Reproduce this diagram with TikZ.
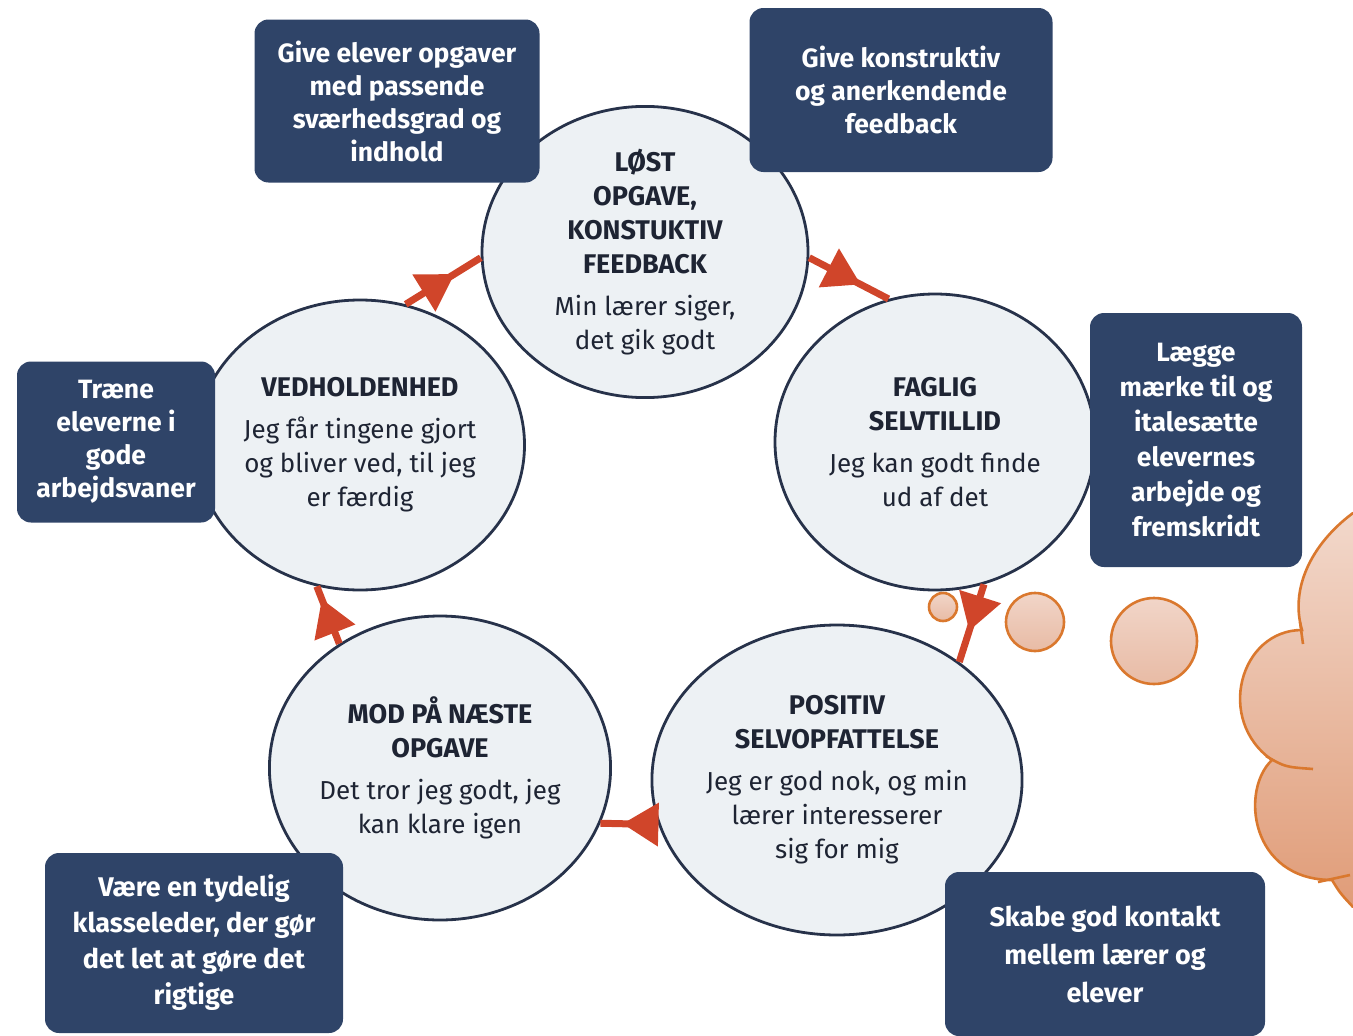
\documentclass[tikz,border=0pt]{standalone}
\usepackage{fontspec}
\setmainfont{Fira Sans}
\usetikzlibrary{shapes.geometric,decorations.markings,arrows.meta}
\definecolor{navy}{HTML}{2F4468}
\definecolor{ring}{HTML}{27324A}
\definecolor{cfill}{HTML}{EDF1F4}
\definecolor{ctext}{HTML}{1E2433}
\definecolor{arrowred}{HTML}{D0452A}
\definecolor{bubedge}{HTML}{DA782E}
\definecolor{bubtop}{HTML}{F1D5C8}
\definecolor{bubbot}{HTML}{E8BBA5}
\definecolor{cloudtop}{HTML}{F2D8CB}
\definecolor{cloudbot}{HTML}{E09C78}
\newcommand\ttl[1]{{\fontsize{27}{34}\selectfont\bfseries #1}}
\begin{document}
\begin{tikzpicture}[x=1pt,y=-1pt,
 circ/.style={ellipse, draw=ring, line width=2.8pt, fill=cfill, inner sep=0pt, align=center, text=ctext,
   font=\fontsize{26}{34}\selectfont},
 tbox/.style={rounded corners=14pt, fill=navy, text=white, align=center,
   font=\fontsize{26.5}{33}\selectfont\bfseries, inner sep=0pt},
 flow/.style={draw=arrowred, line width=7pt, postaction={decorate},
   decoration={markings, mark=at position #1 with {\arrow[arrowred]{Triangle[length=36pt,width=42pt]}}}},
 flow/.default=0.65,
 bubble/.style={circle, draw=bubedge, line width=2.6pt, top color=bubtop, bottom color=bubbot, inner sep=0pt},
]
\path[use as bounding box] (0,0) rectangle (1353,1036);

% cloud
\shade[top color=cloudtop, bottom color=cloudbot]
  (1353,513) .. controls (1310,545) and (1290,590) .. (1302,630)
  .. controls (1240,630) and (1215,720) .. (1272,760)
  .. controls (1240,790) and (1250,880) .. (1332,880)
  .. controls (1340,893) .. (1353,907) -- cycle;
\draw[bubedge, line width=2.6pt, line cap=round]
  (1353,513) .. controls (1310,545) and (1290,590) .. (1302,630)
  .. controls (1240,630) and (1215,720) .. (1272,760)
  .. controls (1240,790) and (1250,880) .. (1332,880)
  .. controls (1340,893) .. (1353,907);
\draw[bubedge, line width=2.6pt] (1300,622) -- (1303,644);
\draw[bubedge, line width=2.6pt] (1266,756) .. controls (1285,767) .. (1313,769);
\draw[bubedge, line width=2.6pt] (1318,882) -- (1350,875);

% circles
\node[circ, minimum width=326pt, minimum height=280pt] (c1) at (645,252)
  {\ttl{LØST}\\\ttl{OPGAVE,}\\\ttl{KONSTUKTIV}\\\ttl{FEEDBACK}\\[8pt]Min lærer siger,\\det gik godt};
\node[circ, minimum width=320pt, minimum height=296pt] (c2) at (935,442)
  {\ttl{FAGLIG}\\\ttl{SELVTILLID}\\[8pt]Jeg kan godt finde\\ud af det};
\node[circ, minimum width=350pt, minimum height=310pt] (c3) at (837,780)
  {\ttl{POSITIV}\\\ttl{SELVOPFATTELSE}\\[8pt]Jeg er god nok, og min\\lærer interesserer\\sig for mig};
\node[circ, minimum width=334pt, minimum height=304pt] (c4) at (440,768)
  {\ttl{MOD PÅ NÆSTE}\\\ttl{OPGAVE}\\[8pt]Det tror jeg godt, jeg\\kan klare igen};
\node[circ, minimum width=310pt, minimum height=290pt] (c5) at (360,445)
  {\ttl{VEDHOLDENHED}\\[8pt]Jeg får tingene gjort\\og bliver ved, til jeg\\er færdig};

% arrows
\draw[flow] (c1.-2) -- (c2.108);
\draw[flow=0.6] (c2.-71) -- (c3.44);
\draw[flow=0.62] (c3.-166) -- (c4.-19);
\draw[flow=0.78] (c4.129) -- (c5.-107);
\draw[flow] (c5.72) -- (c1.182);

% thought bubbles
\node[bubble, minimum size=28pt] (b1) at (943,607) {};
\node[bubble, minimum size=58pt] (b2) at (1035,622) {};
\node[bubble, minimum size=86pt] (b3) at (1154,641) {};

% boxes
\node[tbox, minimum width=285pt, minimum height=163pt] (t1) at (397,101)
  {Give elever opgaver\\med passende\\sværhedsgrad og\\indhold};
\node[tbox, minimum width=303pt, minimum height=164pt] (t2) at (901,90)
  {Give konstruktiv\\og anerkendende\\feedback};
\node[tbox, minimum width=212pt, minimum height=254pt, font=\fontsize{26.5}{35}\selectfont\bfseries] (t3) at (1196,440)
  {Lægge\\mærke til og\\italesætte\\elevernes\\arbejde og\\fremskridt};
\node[tbox, minimum width=198pt, minimum height=161pt] (t4) at (116,442)
  {Træne\\eleverne i\\gode\\arbejdsvaner};
\node[tbox, minimum width=298pt, minimum height=180pt, font=\fontsize{27}{36}\selectfont\bfseries] (t5) at (194,943)
  {Være en tydelig\\klasseleder, der gør\\det let at gøre det\\rigtige};
\node[tbox, minimum width=320pt, minimum height=164pt, font=\fontsize{27}{38}\selectfont\bfseries] (t6) at (1105,954)
  {Skabe god kontakt\\mellem lærer og\\elever};
\end{tikzpicture}
\end{document}
